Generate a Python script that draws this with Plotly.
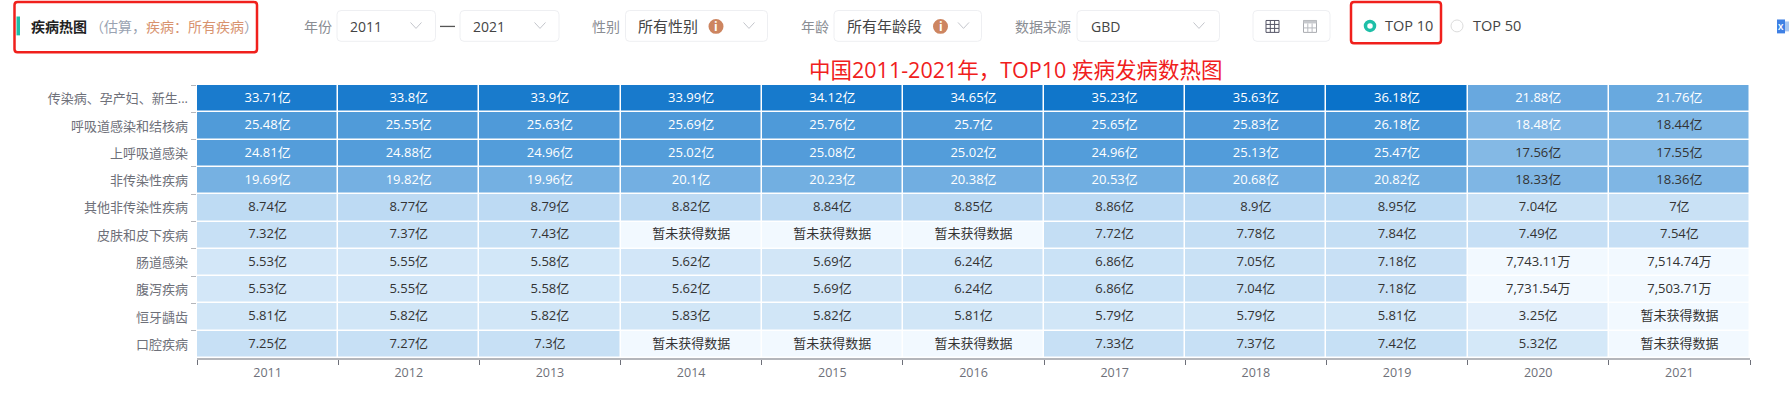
import plotly.graph_objects as go

# ---------- data ----------
YEARS = ["2011", "2012", "2013", "2014", "2015", "2016", "2017", "2018", "2019", "2020", "2021"]
DISEASES = ["传染病、孕产妇、新生...", "呼吸道感染和结核病", "上呼吸道感染", "非传染性疾病", "其他非传染性疾病",
            "皮肤和皮下疾病", "肠道感染", "腹泻疾病", "恒牙龋齿", "口腔疾病"]
# values in units of 亿; None = 暂未获得数据
infectious = [33.71, 33.8, 33.9, 33.99, 34.12, 34.65, 35.23, 35.63, 36.18, 21.88, 21.76]
respiratory = [25.48, 25.55, 25.63, 25.69, 25.76, 25.7, 25.65, 25.83, 26.18, 18.48, 18.44]
upper_resp = [24.81, 24.88, 24.96, 25.02, 25.08, 25.02, 24.96, 25.13, 25.47, 17.56, 17.55]
non_comm = [19.69, 19.82, 19.96, 20.1, 20.23, 20.38, 20.53, 20.68, 20.82, 18.33, 18.36]
other_nc = [8.74, 8.77, 8.79, 8.82, 8.84, 8.85, 8.86, 8.9, 8.95, 7.04, 7]
skin = [7.32, 7.37, 7.43, None, None, None, 7.72, 7.78, 7.84, 7.49, 7.54]
enteric = [5.53, 5.55, 5.58, 5.62, 5.69, 6.24, 6.86, 7.05, 7.18, 0.774311, 0.751474]
diarrhea = [5.53, 5.55, 5.58, 5.62, 5.69, 6.24, 6.86, 7.04, 7.18, 0.773154, 0.750371]
caries = [5.81, 5.82, 5.82, 5.83, 5.82, 5.81, 5.79, 5.79, 5.81, 3.25, None]
oral = [7.25, 7.27, 7.3, None, None, None, 7.33, 7.37, 7.42, 5.32, None]
ROWS = [infectious, respiratory, upper_resp, non_comm, other_nc, skin, enteric, diarrhea, caries, oral]

W, H = 1789, 393
L, R, T, B = 197, 1750, 85, 360
FONT = "Open Sans, Noto Sans CJK SC"


def label(v):
    if v is None:
        return "暂未获得数据"
    if v < 1:
        return f"{v * 1e4:,.2f}万"
    return f"{v:g}亿"


z = [[0 if v is None else v for v in row] for row in ROWS]
xs, ys, texts, colors = [], [], [], []
for d, row in zip(DISEASES, ROWS):
    for y, v in zip(YEARS, row):
        xs.append(y)
        ys.append(d)
        texts.append(label(v))
        colors.append("#ffffff" if (v or 0) > 18.45 else "#333333")

fig = go.Figure()
fig.add_trace(go.Heatmap(x=YEARS, y=DISEASES, z=z, zmin=0.75, zmax=36.18, xgap=1.5, ygap=1.5, showscale=False,
                         colorscale=[[0, "#f2f9ff"], [1, "#0a72c9"]], hoverinfo="skip"))
fig.add_trace(go.Scatter(x=xs, y=ys, text=texts, mode="text", textposition="middle center",
                         textfont=dict(size=13, color=colors, family=FONT), hoverinfo="skip", showlegend=False))


# ---------- page chrome (pixel helpers) ----------
def px(x):
    return (x - L) / (R - L)


def py(y):
    return (B - y) / (B - T)


shapes, annos = [], []


def text(x, y, s, size=14, color="#333333", anchor="left", bold=False):
    annos.append(dict(xref="paper", yref="paper", x=px(x), y=py(y), text=f"<b>{s}</b>" if bold else s,
                      showarrow=False, xanchor=anchor, yanchor="middle", xshift=0, yshift=0,
                      font=dict(size=size, color=color, family=FONT), borderpad=0, borderwidth=0))


def rbox(x0, y0, x1, y1, r=4, line="#eeeff2", width=1, fill=None):
    p = (f"M{px(x0 + r)},{py(y0)} L{px(x1 - r)},{py(y0)} Q{px(x1)},{py(y0)} {px(x1)},{py(y0 + r)} "
         f"L{px(x1)},{py(y1 - r)} Q{px(x1)},{py(y1)} {px(x1 - r)},{py(y1)} L{px(x0 + r)},{py(y1)} "
         f"Q{px(x0)},{py(y1)} {px(x0)},{py(y1 - r)} L{px(x0)},{py(y0 + r)} Q{px(x0)},{py(y0)} {px(x0 + r)},{py(y0)} Z")
    shapes.append(dict(type="path", xref="paper", yref="paper", path=p, line=dict(color=line, width=width),
                       fillcolor=fill or "rgba(0,0,0,0)"))


def rect(x0, y0, x1, y1, fill=None, line=None, width=1):
    shapes.append(dict(type="rect", xref="paper", yref="paper", x0=px(x0), x1=px(x1), y0=py(y0), y1=py(y1),
                       fillcolor=fill or "rgba(0,0,0,0)", line=dict(color=line or "rgba(0,0,0,0)", width=width)))


def seg(x0, y0, x1, y1, color="#666666", width=1):
    shapes.append(dict(type="line", xref="paper", yref="paper", x0=px(x0), x1=px(x1), y0=py(y0), y1=py(y1),
                       line=dict(color=color, width=width)))


def circle(cx, cy, r, fill=None, line=None, width=1):
    shapes.append(dict(type="circle", xref="paper", yref="paper", x0=px(cx - r), x1=px(cx + r), y0=py(cy - r),
                       y1=py(cy + r), fillcolor=fill or "rgba(0,0,0,0)",
                       line=dict(color=line or "rgba(0,0,0,0)", width=width)))


def chevron(cx, cy=25):
    seg(cx - 5.5, cy - 3, cx, cy + 3, "#c4c6cc")
    seg(cx, cy + 3, cx + 5.5, cy - 3, "#c4c6cc")


def info(cx, cy=26):
    circle(cx, cy, 7.5, fill="#cd8560")
    text(cx, cy, "i", size=12, color="#ffffff", anchor="center", bold=True)


GREY, DARK = "#8a8d93", "#444444"
# title block
rbox(14.5, 1.5, 257, 52, r=3, line="#f0201c", width=2.5)
rect(16.5, 16, 20, 35, fill="#1fbfa8")
text(30.5, 26, "疾病热图", size=14, color="#222222", bold=True)
annos.append(dict(xref="paper", yref="paper", x=px(88), y=py(26), showarrow=False, xanchor="left", yanchor="middle",
                  font=dict(size=14, family=FONT, color="#9aa3b2"),
                  text='（估算，<span style="color:#d8936f">疾病：所有疾病</span>）'))
# filters
text(303.5, 26, "年份", color=GREY)
rbox(337, 10, 435.5, 41)
text(350, 26, "2011", size=14, color=DARK)
chevron(416)
seg(440, 26, 455, 26, "#555555", 1.3)
rbox(460, 10, 559, 41)
text(473, 26, "2021", size=14, color=DARK)
chevron(540)
text(592, 26, "性别", color=GREY)
rbox(625.5, 10, 767.5, 41)
text(637.5, 26, "所有性别", size=15, color=DARK)
info(716)
chevron(749)
text(801, 26, "年龄", color=GREY)
rbox(834, 10, 981.5, 41)
text(847, 26, "所有年龄段", size=15, color=DARK)
info(940.5)
chevron(963.5)
text(1015, 26, "数据来源", color=GREY)
rbox(1077, 10, 1219.5, 41)
text(1090.5, 26, "GBD", size=14, color=DARK)
chevron(1199)
# table-view icons
rbox(1253, 10, 1330, 41)
rect(1266, 20, 1279, 32, line="#555566")
for d in (4.3, 8.6):
    seg(1266 + d, 20, 1266 + d, 32, "#555566")
    seg(1266, 20 + d * 0.93, 1279, 20 + d * 0.93, "#555566")
rect(1303.5, 20, 1316.5, 32, line="#a9abb0")
rect(1303.5, 20, 1316.5, 23, fill="#c6c8cc")
for d in (4.3, 8.6):
    seg(1303.5 + d, 23, 1303.5 + d, 32, "#b9bbc0")
seg(1303.5, 27.5, 1316.5, 27.5, "#b9bbc0")
# radios
rbox(1351, 1.5, 1441, 43, r=3, line="#f0201c", width=2.5)
circle(1370, 25.5, 4.5, line="#1fbfa8", width=3.5)
text(1385, 25.5, "TOP 10", size=14.5, color=DARK)
circle(1457, 25.5, 6, line="#dcdcdc")
text(1473, 25.5, "TOP 50", size=14.5, color=DARK)
# export icon, cut by the page edge
rect(1777, 19, 1785, 33, fill="#3f80e4")
text(1781, 26, "X", size=8, color="#ffffff", anchor="center", bold=True)
rect(1785, 21, 1789, 31, fill="#a9c6f2")
# red heading
text(809, 69, "中国2011-2021年，TOP10 疾病发病数热图", size=21.5, color="#f0201c")

fig.update_layout(
    width=W, height=H, autosize=False, paper_bgcolor="white", plot_bgcolor="white",
    margin=dict(l=L, r=W - R, t=T, b=H - B, pad=0), showlegend=False,
    shapes=shapes, annotations=annos, font=dict(family=FONT),
    xaxis=dict(type="category", range=[-0.5, 10.5], tickson="boundaries", ticks="outside", ticklen=5, tickwidth=1,
               tickcolor="#6e7079", showline=True, linecolor="#b4b6bb", linewidth=1.5, showgrid=False, zeroline=False,
               ticklabelstandoff=2,
               tickfont=dict(size=12.5, color="#6e7079", family=FONT), fixedrange=True),
    yaxis=dict(type="category", range=[9.5, -0.5], tickson="boundaries", ticks="outside", ticklen=5, tickwidth=1,
               tickcolor="#b4b6bb", showline=False, showgrid=False, zeroline=False, ticklabelstandoff=8,
               tickfont=dict(size=13, color="#6e7079", family=FONT), fixedrange=True),
)
fig.write_html("out.html", config=dict(displayModeBar=False),
               post_script="document.body.style.margin='0';document.documentElement.style.overflow='hidden';")
